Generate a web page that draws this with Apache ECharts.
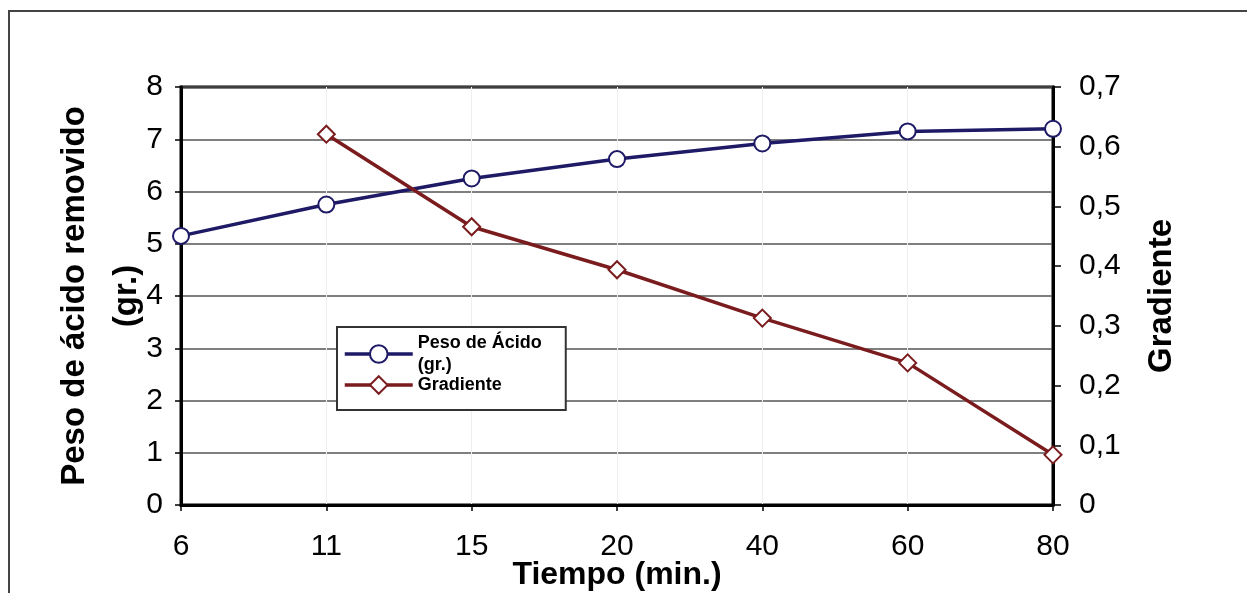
<!DOCTYPE html>
<html><head><meta charset="utf-8">
<script src="https://cdn.jsdelivr.net/npm/echarts@6/dist/echarts.min.js"></script>
<style>html,body{margin:0;padding:0;background:#fff}#c{width:1247px;height:593px}</style>
</head><body><div id="c"></div>
<script>
const categories = ['6','11','15','20','40','60','80'];
const pesoAcido = [5.15, 5.75, 6.25, 6.62, 6.92, 7.15, 7.2];
const gradiente = [null, 0.621, 0.466, 0.394, 0.313, 0.238, 0.084];
const leftTicks = {min: 0, max: 8, interval: 1};
const rightTicks = {min: 0, max: 0.7, interval: 0.1};

const font = 'Liberation Sans, Arial, sans-serif';
const chart = echarts.init(document.getElementById('c'));
chart.setOption({
  animation: false,
  backgroundColor: '#fff',
  graphic: [
    {type: 'polyline', shape: {points: [[9, 593], [9, 11], [1247, 11]]}, style: {stroke: '#444', lineWidth: 2, fill: null}, z: 0}
  ],
  grid: {left: 181, right: 1247 - 1053, top: 87, bottom: 593 - 505, show: true, borderColor: '#000', borderWidth: 3,
    containLabel: false, outerBoundsMode: 'none'},
  legend: {
    left: 337, top: 327, orient: 'vertical', itemWidth: 68, itemHeight: 22, itemGap: -2,
    padding: [5, 10, 14, 6], backgroundColor: '#fff', borderColor: '#333', borderWidth: 2,
    lineStyle: {width: 3.5}, itemStyle: {borderWidth: 3},
    textStyle: {fontFamily: font, fontSize: 18, fontWeight: 'bold', color: '#000', lineHeight: 22, width: 138},
    data: ['Peso de Ácido\n(gr.)', 'Gradiente']
  },
  xAxis: {
    type: 'category', data: categories, boundaryGap: false,
    name: 'Tiempo (min.)', nameLocation: 'middle', nameGap: 54, nameMoveOverlap: false,
    nameTextStyle: {fontFamily: font, fontSize: 32, fontWeight: 'bold', color: '#000'},
    axisLine: {lineStyle: {color: '#000', width: 3}},
    axisTick: {show: true, alignWithLabel: true, length: 6, lineStyle: {color: '#000', width: 1.5}},
    axisLabel: {fontFamily: font, fontSize: 30, color: '#000', margin: 27},
    splitLine: {show: true, lineStyle: {color: '#eee', width: 1}}
  },
  yAxis: [
    {
      type: 'value', position: 'left', min: leftTicks.min, max: leftTicks.max, interval: leftTicks.interval,
      name: 'Peso de ácido removido\n(gr.)', nameLocation: 'middle', nameRotate: 90, nameGap: 28, nameMoveOverlap: false,
      nameTextStyle: {fontFamily: font, fontSize: 33, fontWeight: 'bold', color: '#000', lineHeight: 52},
      axisLine: {show: true, lineStyle: {color: '#000', width: 3}},
      axisTick: {show: true, length: 6, lineStyle: {color: '#000', width: 1.5}},
      axisLabel: {fontFamily: font, fontSize: 30, color: '#000', margin: 18},
      splitLine: {show: true, lineStyle: {color: '#555', width: 1.5}}
    },
    {
      type: 'value', position: 'right', min: rightTicks.min, max: rightTicks.max, interval: rightTicks.interval,
      name: 'Gradiente', nameLocation: 'middle', nameRotate: 90, nameGap: 92, nameMoveOverlap: false,
      nameTextStyle: {fontFamily: font, fontSize: 33, fontWeight: 'bold', color: '#000'},
      axisLine: {show: true, lineStyle: {color: '#000', width: 3}},
      axisTick: {show: true, length: 8, lineStyle: {color: '#000', width: 1.5}},
      axisLabel: {fontFamily: font, fontSize: 30, color: '#000', margin: 26,
        formatter: v => (Math.round(v * 10) / 10).toString().replace('.', ',')},
      splitLine: {show: false}
    }
  ],
  series: [
    {
      name: 'Peso de Ácido\n(gr.)', type: 'line', yAxisIndex: 0, data: pesoAcido,
      symbol: 'emptyCircle', symbolSize: 16, color: '#1e1a66',
      lineStyle: {width: 3.5, color: '#1e1a66'}, itemStyle: {borderWidth: 3.5, color: '#1e1a66'}, z: 3
    },
    {
      name: 'Gradiente', type: 'line', yAxisIndex: 1, data: gradiente,
      symbol: 'emptyDiamond', symbolSize: 17, color: '#7a1b1e',
      lineStyle: {width: 3.5, color: '#7a1b1e'}, itemStyle: {borderWidth: 3.5, color: '#7a1b1e'}, z: 3
    }
  ]
});
</script></body></html>
